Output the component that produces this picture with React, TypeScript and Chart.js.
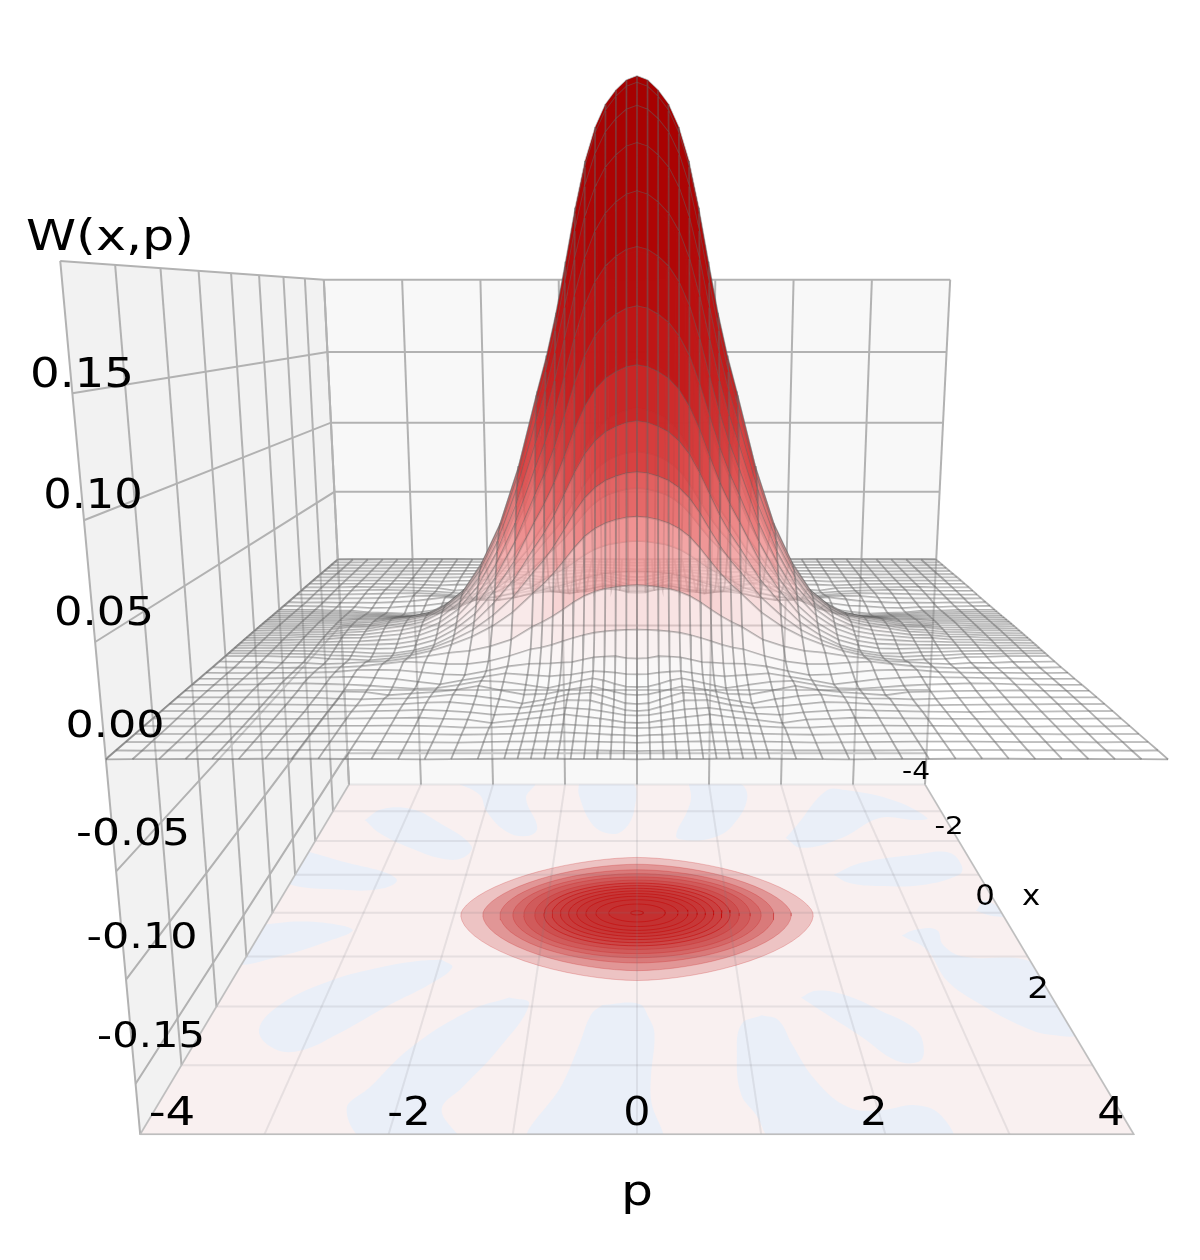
import React, { useEffect, useRef } from "react";
import { Chart, registerables } from "chart.js";

Chart.register(...registerables);

// Axis ticks
const pTicks = [-4, -3, -2, -1, 0, 1, 2, 3, 4];
const xTicks = [-4, -3, -2, -1, 0, 1, 2, 3, 4];
const zTicks = [-0.15, -0.1, -0.05, 0, 0.05, 0.1, 0.15];
const zFloor = -0.175;
const zTop = 0.2;

// Mesh coordinates (both |x| and |p|), mirrored about 0
const gridAxis = [0,0.1,0.2,0.3,0.4,0.5,0.6,0.7,0.8,0.9,1,1.2,1.4,1.6,1.8,2,2.2,2.4,2.6,2.8,3,3.2,3.4,3.6,3.8,4];

// W(x,p) x 10000. Rows follow |x| in gridAxis; columns follow |p| in gridAxis
const wignerTable = [
  [3005,2985,2935,2865,2750,2580,2340,2060,1790,1560,1365,952,629,402,239,148,87,63,47,27,23,10,9,4,4,2],
  [2964,2944,2895,2826,2712,2545,2308,2032,1765,1539,1346,939,620,395,234,144,85,61,45,26,21,9,8,3,3,2],
  [2843,2824,2777,2711,2602,2441,2214,1949,1694,1476,1291,901,595,377,224,138,82,58,43,25,20,9,8,3,3,2],
  [2653,2635,2591,2530,2428,2278,2066,1819,1580,1377,1205,841,555,347,205,122,71,48,35,21,18,8,8,3,3,2],
  [2408,2392,2352,2296,2204,2067,1875,1651,1434,1250,1094,763,504,311,182,103,57,37,27,17,16,7,7,3,3,2],
  [2126,2112,2077,2027,1946,1825,1656,1457,1266,1104,966,674,445,270,156,84,44,24,17,10,9,5,5,2,2,1],
  [1826,1814,1783,1741,1671,1568,1422,1252,1088,948,829,578,382,226,128,62,29,11,7,5,4,3,3,1,2,1],
  [1525,1515,1490,1454,1396,1309,1188,1045,908,792,693,483,322,192,107,47,16,-1,-4,-1,-1,1,1,0,1,0],
  [1239,1231,1210,1182,1134,1064,965,850,738,643,563,393,265,159,87,32,2,-14,-14,-8,-6,-2,-1,0,0,0],
  [979,973,957,934,896,841,763,671,583,508,445,310,210,130,74,30,3,-14,-19,-14,-11,-4,-3,-1,0,0],
  [753,748,736,718,689,647,586,516,449,391,342,239,163,106,63,29,3,-13,-24,-19,-16,-6,-5,-1,-1,-1],
  [410,407,400,391,375,352,319,281,244,213,186,118,82,58,47,29,16,1,-4,-11,-15,-8,-8,-3,-2,-1],
  [200,198,195,190,183,171,155,137,119,104,95,59,30,15,15,24,29,16,4,-2,-6,-4,-6,-3,-4,-2],
  [75,77,87,85,81,69,56,53,49,48,47,33,8,-13,-9,2,13,15,14,4,1,-1,-1,-2,-2,-1],
  [22,24,31,36,39,30,21,17,12,16,19,28,9,-9,-30,-17,-2,4,9,7,5,3,1,-1,-1,-1],
  [-12,-9,5,22,33,21,9,-4,-17,-9,-1,15,20,0,-17,-21,-13,-5,1,4,7,6,2,1,0,0],
  [-20,-17,-4,10,24,16,8,-3,-14,-16,-18,3,26,6,-5,-13,-21,-5,-3,0,1,2,3,1,1,1],
  [-32,-28,-10,9,25,20,16,3,-10,-20,-30,-8,7,15,4,-4,-5,-9,-6,-1,0,1,1,1,1,1],
  [-33,-28,-12,4,19,20,21,9,-3,-10,-17,-11,0,11,9,1,-2,-6,-4,-2,-1,0,0,1,1,1],
  [-21,-18,-8,1,10,13,17,10,2,-5,-11,-17,-5,2,7,4,1,-1,-2,-4,-1,-1,-1,0,1,1],
  [-21,-18,-9,0,7,13,20,12,5,-1,-7,-21,-5,-1,4,2,1,0,-1,-1,-2,-1,-1,-1,0,0],
  [-9,-8,-4,0,2,5,8,6,4,2,-1,-7,-7,-1,1,2,1,1,0,-1,-1,-2,-1,-1,-1,0],
  [-9,-6,-4,-1,2,4,7,6,5,2,0,-2,-4,-2,0,1,1,1,0,-1,-1,-1,-2,-1,-1,-1],
  [-4,-2,-1,0,1,2,2,2,2,1,1,-1,-3,-2,-1,0,1,1,1,0,-1,-1,-1,-2,-1,-1],
  [-4,-3,-2,-1,0,1,2,2,3,2,1,-1,-1,-1,-1,0,1,1,1,1,0,0,-1,-1,-2,-1],
  [-2,-1,-1,0,0,0,1,1,1,1,1,0,-1,-2,-1,0,0,1,1,1,0,0,0,-1,-1,-2],
];

// Floor contours of W: semi-axes in p and x, and outline squareness
const contourSemiP = [1.93,1.69,1.5,1.36,1.24,1.12,1.02,0.93,0.84,0.75,0.66,0.56,0.45,0.31,0.07];
const contourSemiX = [1.5,1.3,1.14,1.03,0.94,0.85,0.77,0.7,0.63,0.56,0.49,0.42,0.33,0.22,0.05];
const contourPower = [1.7,1.75,1.85,1.9,2,2,2,2,2,2,2,2,2,2,2];
const contourAlpha = [0.225,0.29,0.25,0.22,0.2,0.2,0.2,0.2,0.18,0.18,0.15,0.15,0.12,0.1,0.1];

// Negative regions of W on the floor: [p, x] outlines
const blobA = [[-2.5,-4.05],[-1.43,-4.05],[-1.5,-3.48],[-1.27,-2.42],[-1.39,-2.16],[-1.66,-2.32],[-1.98,-3],[-2.14,-3.6]];
const blobB = [[-0.81,-4.05],[-0.07,-4.05],[-0.04,-3],[-0.19,-2.32],[-0.39,-2.26],[-0.59,-2.6],[-0.79,-3.6]];
const blobC = [[-3.52,-2.69],[-3.37,-3.07],[-2.97,-3.07],[-2.59,-2.66],[-2.04,-1.85],[-2.1,-1.49],[-2.34,-1.46],[-2.79,-1.79],[-3.25,-2.26]];
const blobD = [[-4.05,-1.7],[-3.46,-1.34],[-2.94,-1.05],[-2.78,-0.83],[-2.94,-0.61],[-3.36,-0.59],[-4.05,-0.78],[-4.05,-1.19]];
const blobE = [[-4.05,0.29],[-3.62,0.21],[-3.16,0.31],[-3.03,0.43],[-3.23,0.66],[-3.65,0.99],[-4.05,1.13]];
const blobF = [[-1.99,1.07],[-1.86,1.23],[-2.04,1.58],[-2.36,1.97],[-2.74,2.49],[-3,2.76],[-3.25,2.74],[-3.48,2.42],[-3.4,1.96],[-3.02,1.5],[-2.58,1.23],[-2.19,1.09]];
const blobG = [[-1.23,1.83],[-1.03,1.95],[-1.25,2.76],[-1.49,3.34],[-1.62,3.67],[-1.42,4.1],[-2.14,4.1],[-2.41,3.66],[-2.28,3.34],[-2.03,2.71],[-1.58,2.07]];
const blobH = [[-0.33,1.97],[0.02,1.95],[0.11,2.2],[0.16,2.49],[0.12,3.19],[0.12,3.55],[0.18,4.1],[-0.86,4.1],[-0.64,3.29],[-0.52,2.66],[-0.43,2.14]];
const blobI = [[1.17,2.16],[1.32,2.25],[1.4,2.66],[1.54,3.24],[1.76,3.63],[2.03,3.67],[2.32,3.6],[2.5,3.73],[2.51,4.1],[1.11,4.1],[0.98,3.73],[0.88,3.44],[0.89,2.82],[0.97,2.32]];
const blobJ = [[1.58,1.83],[1.74,1.7],[1.99,1.77],[2.3,2.07],[2.57,2.42],[2.57,2.76],[2.48,2.95],[2.28,2.92],[2.05,2.54],[1.85,2.24]];
const blobK = [[2.8,0.54],[2.96,0.41],[3.2,0.41],[3.19,0.74],[3.32,0.99],[4.05,1.2],[4.05,2.46],[3.78,2.5],[3.58,2.37],[3.28,1.96],[3.06,1.5],[3,0.87]];
const blobL = [[3.73,-0.05],[3.9,-0.3],[4.05,0.07],[3.87,0.07]];
const blobM = [[2.3,-1],[2.68,-1.34],[3.38,-1.58],[3.8,-1.64],[3.86,-1.25],[3.77,-1],[3.28,-0.72],[2.79,-0.69],[2.44,-0.78]];
const blobN = [[1.86,-2.1],[2.04,-2.5],[2.59,-3.75],[2.86,-3.78],[3.47,-3.37],[3.77,-2.76],[3.6,-2.69],[3.15,-2.76],[2.56,-2.1],[2.02,-1.79]];
const blobO = [[0.72,-4.05],[1.42,-4.05],[1.49,-3.48],[1.22,-2.5],[0.94,-2.1],[0.61,-2.03],[0.49,-2.16],[0.66,-3],[0.73,-3.48]];
const negativeBlobs = [blobA,blobB,blobC,blobD,blobE,blobF,blobG,blobH,blobI,blobJ,blobK,blobL,blobM,blobN,blobO];

// Surface colour scale: W, r, g, b, alpha
const colourLevels = [0, 0.01, 0.03, 0.06, 0.1, 0.15, 0.22, 0.3];
const colourR = [255, 252, 248, 238, 218, 195, 175, 165];
const colourG = [255, 238, 205, 130, 65, 25, 5, 0];
const colourB = [255, 238, 205, 130, 65, 25, 5, 0];
const colourA = [0.25, 0.4, 0.55, 0.7, 0.85, 0.93, 0.97, 1];

// Text: label, centre, baseline, font size, horizontal stretch
const labelText = ["W(x,p)","0.15","0.10","0.05","0.00","-0.05","-0.10","-0.15","-4","-2","0","2","4","p","-4","-2","0","x","2"];
const labelCx = [110,82,93,104,115,133,142,151,172,409,637,874,1111,637,916,949,985,1031,1038];
const labelY = [250,387,508,625,737,845,948,1047,1125,1125,1125,1125,1125,1205,779,834,905,905,998];
const labelSize = [43,40,40,39,38,37,36,35,39,39,39,39,39,42,24,25,28,28,31];
const labelStretch = [1.18,1.17,1.12,1.15,1.17,1.19,1.19,1.19,1.2,1.12,1.1,1.1,1.1,1.2,1.17,1.17,1.1,1.1,1.1];

// Camera
const CX = 637, FOCAL = 382.8, V0 = 631.3, VX = -84.3, VZ = -1869, WX = -0.2793, WZ = -0.285;
const project = (p: number, x: number, z: number) => {
  const xn = x / 4;
  const w = 1 + WX * xn + WZ * z;
  return { x: CX + (FOCAL * (p / 4)) / w, y: (V0 + VX * xn + VZ * z) / w };
};

const MID = gridAxis.length - 1;
const SPAN = 2 * MID;
const coord = (k: number) => Math.sign(k - MID) * gridAxis[Math.abs(k - MID)];
const wAt = (r: number, c: number) => wignerTable[Math.abs(r - MID)][Math.abs(c - MID)] / 10000;
const node = (r: number, c: number) => project(coord(c), coord(r), wAt(r, c));

const colourFor = (z: number) => {
  const v = Math.max(0, z);
  let k = 0;
  while (k < colourLevels.length - 2 && v > colourLevels[k + 1]) k++;
  const t = Math.min(1, (v - colourLevels[k]) / (colourLevels[k + 1] - colourLevels[k]));
  const mix = (a: number[]) => a[k] + (a[k + 1] - a[k]) * t;
  return `rgba(${mix(colourR).toFixed(0)},${mix(colourG).toFixed(0)},${mix(colourB).toFixed(0)},${mix(colourA).toFixed(3)})`;
};

const base = { showLine: true, pointRadius: 0, pointHoverRadius: 0, tension: 0 };
const polygon = (data: any[], fillColor: string, stroke = "rgba(0,0,0,0)", width = 0, tension = 0) => ({
  ...base, data, fill: "shape", backgroundColor: fillColor, borderColor: stroke, borderWidth: width, tension,
});
const line = (data: any[], stroke: string, width: number) => ({
  ...base, data, fill: false, borderColor: stroke, borderWidth: width,
});

function buildDatasets() {
  const ds: any[] = [];
  const xMin = xTicks[0], xMax = xTicks[xTicks.length - 1], pMin = pTicks[0], pMax = pTicks[pTicks.length - 1];
  const fl = (p: number, x: number) => project(p, x, zFloor);
  // floor and its negative regions first, so that walls and margins trim their outlines
  ds.push(polygon([fl(pMin,xMin),fl(pMax,xMin),fl(pMax,xMax),fl(pMin,xMax)], "rgb(249,240,240)"));
  negativeBlobs.forEach((b) => {
    const pts = b.map(([p, x]) => fl(p, x));
    ds.push(polygon([...pts, pts[0]], "rgb(234,239,248)", "rgba(0,0,0,0)", 0, 0.4));
  });
  // white margins beside and below the floor
  const fr = fl(pMax,xMax), br = fl(pMax,xMin), fa = fl(pMin,xMax);
  ds.push(polygon([br, fr, { x: fr.x + 40, y: fr.y }, { x: br.x + 40, y: br.y }], "#ffffff"));
  ds.push(polygon([fa, fr, { x: fr.x + 40, y: fr.y + 30 }, { x: fa.x, y: fa.y + 30 }], "#ffffff"));
  // walls
  ds.push(polygon([project(pMin,xMin,zTop),project(pMax,xMin,zTop),project(pMax,xMin,zFloor),project(pMin,xMin,zFloor)], "rgb(248,248,248)"));
  ds.push(polygon([project(pMin,xMax,zTop),project(pMin,xMin,zTop),project(pMin,xMin,zFloor),project(pMin,xMax,zFloor)], "rgb(242,242,242)"));
  const wallLine = "rgb(178,178,178)";
  pTicks.forEach((p) => ds.push(line([project(p,xMin,zFloor),project(p,xMin,zTop)], wallLine, 2)));
  xTicks.forEach((x) => ds.push(line([project(pMin,x,zFloor),project(pMin,x,zTop)], wallLine, 2)));
  [...zTicks, zTop].forEach((z) => ds.push(line([project(pMin,xMax,z),project(pMin,xMin,z),project(pMax,xMin,z)], wallLine, 2)));
  // contours
  contourSemiP.forEach((a, n) => {
    const b = contourSemiX[n], e = 2 / contourPower[n];
    const pts: any[] = [];
    for (let k = 0; k <= 72; k++) {
      const t = (k / 72) * 2 * Math.PI;
      const c = Math.cos(t), s = Math.sin(t);
      pts.push(fl(a * Math.sign(c) * Math.abs(c) ** e, b * Math.sign(s) * Math.abs(s) ** e));
    }
    ds.push(polygon(pts, `rgba(195,40,40,${contourAlpha[n]})`, `rgba(195,0,0,${n < 6 ? 0.25 : 0.6})`, 0.8));
  });
  const floorLine = "rgba(120,120,130,0.14)";
  pTicks.forEach((p) => ds.push(line([fl(p,xMin),fl(p,xMax)], floorLine, 2)));
  xTicks.forEach((x) => ds.push(line([fl(pMin,x),fl(pMax,x)], floorLine, 2)));
  ds.push(line([fl(pMin,xMin),fl(pMin,xMax),fl(pMax,xMax),fl(pMax,xMin)], "rgb(190,190,190)", 1.5));
  // surface, painted back to front
  const meshColour = "rgba(100,100,100,0.5)";
  const meshWidth = 1.8;
  const rowLine = (r: number) => {
    const pts: any[] = [];
    for (let c = 0; c <= SPAN; c++) pts.push(node(r, c));
    return pts;
  };
  const columnOrder: number[] = [];
  for (let c = 0; c < MID; c++) columnOrder.push(c, SPAN - 1 - c);
  ds.push(line(rowLine(0), meshColour, meshWidth));
  for (let r = 0; r < SPAN; r++) {
    columnOrder.forEach((c) => {
      const z = (wAt(r,c) + wAt(r,c+1) + wAt(r+1,c) + wAt(r+1,c+1)) / 4;
      ds.push(polygon([node(r,c),node(r,c+1),node(r+1,c+1),node(r+1,c)], colourFor(z)));
    });
    const spokes: any[] = [];
    for (let c = 0; c <= SPAN; c++) spokes.push(node(r,c), node(r+1,c), { x: NaN, y: NaN });
    ds.push(line(spokes, meshColour, meshWidth));
    ds.push(line(rowLine(r + 1), meshColour, meshWidth));
  }
  return ds.reverse();
}

const textPlugin = {
  id: "figureText",
  afterDraw(chart: any) {
    const { ctx, scales } = chart;
    ctx.save();
    ctx.fillStyle = "#000";
    ctx.textAlign = "center";
    ctx.textBaseline = "alphabetic";
    labelText.forEach((t, i) => {
      ctx.save();
      ctx.translate(scales.x.getPixelForValue(labelCx[i]), scales.y.getPixelForValue(labelY[i]));
      ctx.scale(labelStretch[i], 1);
      ctx.font = `${labelSize[i]}px "DejaVu Sans"`;
      ctx.fillText(t, 0, 0);
      ctx.restore();
    });
    ctx.restore();
  },
};

export default function App() {
  const ref = useRef<HTMLCanvasElement | null>(null);
  useEffect(() => {
    document.body.style.margin = "0";
    document.body.style.background = "#fff";
    const chart = new Chart(ref.current as HTMLCanvasElement, {
      type: "scatter",
      data: { datasets: buildDatasets() },
      options: {
        animation: false,
        responsive: false,
        events: [],
        layout: { padding: 0 },
        plugins: { legend: { display: false }, tooltip: { enabled: false } },
        scales: {
          x: { type: "linear", min: 0, max: 1200, display: false },
          y: { type: "linear", min: 0, max: 1260, reverse: true, display: false },
        },
      },
      plugins: [textPlugin],
    } as any);
    return () => chart.destroy();
  }, []);
  return <canvas ref={ref} width={1200} height={1260} style={{ display: "block", width: 1200, height: 1260 }} />;
}
